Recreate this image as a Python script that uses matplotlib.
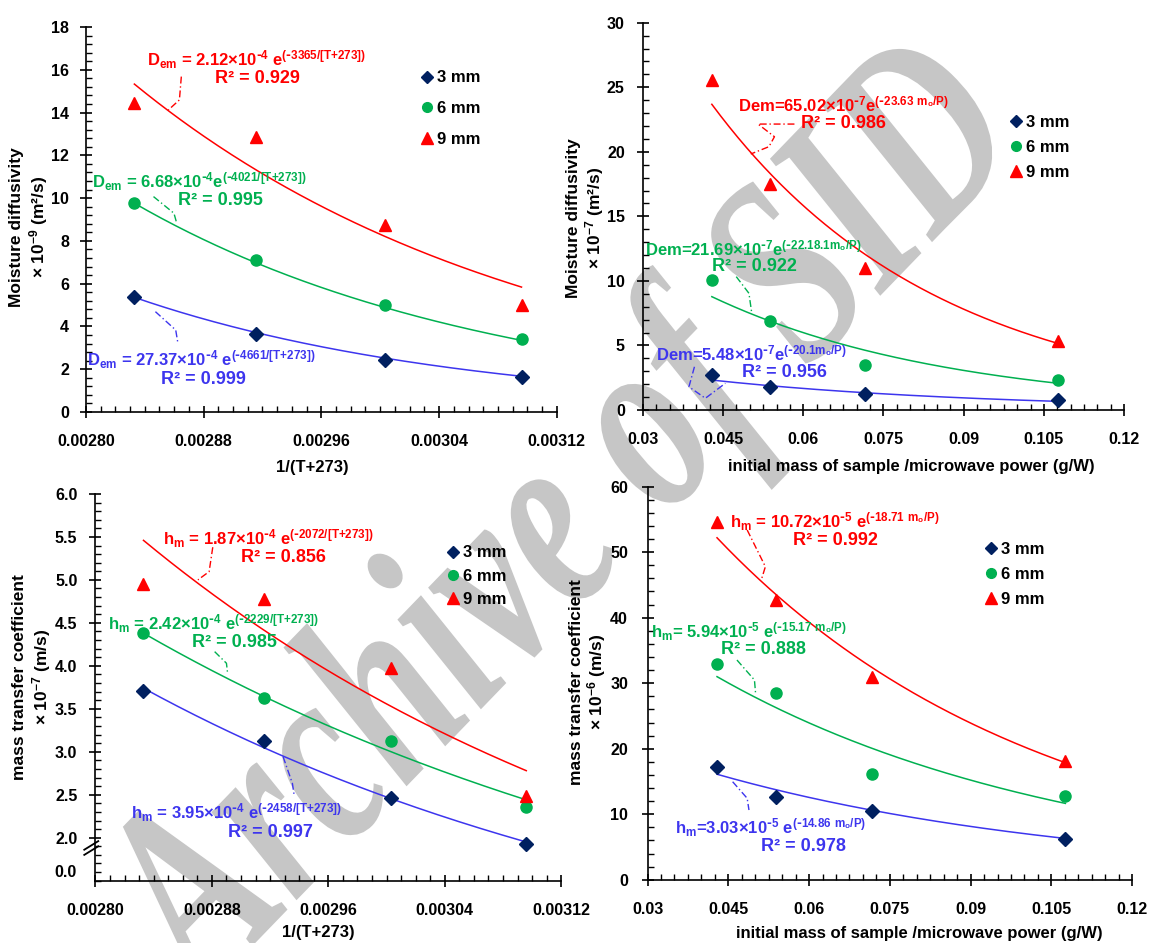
import numpy as np
import matplotlib
matplotlib.use('Agg')
import matplotlib.pyplot as plt
from matplotlib.ticker import MultipleLocator, FixedLocator, FormatStrFormatter, FuncFormatter
from matplotlib.lines import Line2D
from matplotlib.textpath import TextPath
from matplotlib.patches import PathPatch
from matplotlib.font_manager import FontProperties
from matplotlib.transforms import Affine2D, IdentityTransform

# フォント設定
plt.rcParams['font.family'] = 'Liberation Sans'
plt.rcParams['font.weight'] = 'bold'
plt.rcParams['mathtext.default'] = 'regular'

# x軸の値
inv_temp = [0.002833, 0.0029155, 0.003003, 0.003096]   # 1/(T+273), T = 80,70,60,50
mass_power = [0.0429, 0.0538, 0.0716, 0.1076]          # m0/P (g/W)

thickness = ['3 mm', '6 mm', '9 mm']

# 水分拡散係数 ×10^-9 (温度)
dem_temp_3mm = [5.37, 3.63, 2.42, 1.63]
dem_temp_6mm = [9.76, 7.09, 5.02, 3.39]
dem_temp_9mm = [14.45, 12.86, 8.74, 5.0]

# 水分拡散係数 ×10^-7 (m0/P)
dem_mass_3mm = [2.71, 1.76, 1.24, 0.77]
dem_mass_6mm = [10.04, 6.92, 3.49, 2.30]
dem_mass_9mm = [25.56, 17.48, 10.97, 5.37]

# 物質移動係数 ×10^-7 (温度)
hm_temp_3mm = [3.71, 3.12, 2.46, 1.93]
hm_temp_6mm = [4.38, 3.62, 3.13, 2.36]
hm_temp_9mm = [4.95, 4.78, 3.97, 2.49]

# 物質移動係数 ×10^-6 (m0/P)
hm_mass_3mm = [17.2, 12.6, 10.5, 6.2]
hm_mass_6mm = [33.0, 28.5, 16.1, 12.8]
hm_mass_9mm = [54.6, 42.7, 30.9, 18.1]

# 近似曲線（指数）の始点・終点の値 [3mm, 6mm, 9mm]
dem_temp_trend = [[5.36, 1.67], [9.76, 3.35], [15.33, 5.84]]
dem_mass_trend = [[2.32, 0.67], [8.78, 2.07], [23.68, 5.16]]
hm_temp_trend = [[3.74, 1.95], [4.38, 2.44], [5.46, 2.78]]
hm_mass_trend = [[16.1, 6.3], [31.0, 11.65], [52.2, 17.86]]

# 近似式ラベル [3mm, 6mm, 9mm]
dem_temp_eq = [r'D$_{em}$ = 27.37×10$^{\text{-}4}$ e$^{(\text{-}4661/[T{+}273])}$',
               r'D$_{em}$ = 6.68×10$^{\text{-}4}$e$^{(\text{-}4021/[T{+}273])}$',
               r'D$_{em}$ = 2.12×10$^{\text{-}4}$ e$^{(\text{-}3365/[T{+}273])}$']
dem_temp_r2 = ['R² = 0.999', 'R² = 0.995', 'R² = 0.929']
dem_mass_eq = [r'Dem=5.48×10$^{\text{-}7}$e$^{(\text{-}20.1m_o/P)}$',
               r'Dem=21.69×10$^{\text{-}7}$e$^{(\text{-}22.18.1m_o/P)}$',
               r'Dem=65.02×10$^{\text{-}7}$e$^{(\text{-}23.63\ m_o/P)}$']
dem_mass_r2 = ['R² = 0.956', 'R² = 0.922', 'R² = 0.986']
hm_temp_eq = [r'h$_m$ = 3.95×10$^{\text{-}4}$ e$^{(\text{-}2458/[T{+}273])}$',
              r'h$_m$ = 2.42×10$^{\text{-}4}$ e$^{(\text{-}2229/[T{+}273])}$',
              r'h$_m$ = 1.87×10$^{\text{-}4}$ e$^{(\text{-}2072/[T{+}273])}$']
hm_temp_r2 = ['R² = 0.997', 'R² = 0.985', 'R² = 0.856']
hm_mass_eq = [r'h$_m$=3.03×10$^{\text{-}5}$ e$^{(\text{-}14.86\ m_o/P)}$',
              r'h$_m$= 5.94×10$^{\text{-}5}$ e$^{(\text{-}15.17\ m_o/P)}$',
              r'h$_m$ = 10.72×10$^{\text{-}5}$ e$^{(\text{-}18.71\ m_o/P)}$']
hm_mass_r2 = ['R² = 0.978', 'R² = 0.888', 'R² = 0.992']

marker_colors = ['#002060', '#00b050', '#ff0000']
line_colors = ['#3d35ee', '#00b050', '#ff0000']
markers = ['D', 'o', '^']
marker_sizes = [7, 8, 9]


def draw_panel(ax, x, series, trends, eqs, r2s, eq_pos, r2_pos, leaders,
               legend_anchor, legend_spacing):
    ax.set_facecolor('none')
    for i in range(3):
        x0, x1 = x[0], x[-1]
        y0, y1 = trends[i]
        xs = np.linspace(x0, x1, 200)
        ys = y0 * (y1 / y0) ** ((xs - x0) / (x1 - x0))
        ax.plot(xs, ys, color=line_colors[i], lw=1.1, zorder=2)
        ax.plot(x, series[i], ls='none', marker=markers[i], ms=marker_sizes[i],
                color=marker_colors[i], mec=marker_colors[i], zorder=3)
        ax.text(eq_pos[i][0], eq_pos[i][1], eqs[i], color=line_colors[i],
                fontsize=12, fontweight='bold', ha='center', va='center', zorder=4)
        ax.text(r2_pos[i][0], r2_pos[i][1], r2s[i], color=line_colors[i],
                fontsize=13, fontweight='bold', ha='center', va='center', zorder=4)
        lx, ly = zip(*leaders[i])
        ax.plot(lx, ly, color=line_colors[i], lw=1.0, ls=(0, (5, 2, 1, 2)), zorder=2)
    handles = [Line2D([], [], ls='none', marker=markers[i], ms=marker_sizes[i] - 1,
                      color=marker_colors[i]) for i in range(3)]
    ax.legend(handles, thickness, loc='upper left', bbox_to_anchor=legend_anchor,
              frameon=False, fontsize=12, handlelength=0.7, handletextpad=0.25,
              labelspacing=legend_spacing, borderpad=0, borderaxespad=0)
    for side in ['top', 'right']:
        ax.spines[side].set_visible(False)
    for side in ['left', 'bottom']:
        ax.spines[side].set_linewidth(1.2)
    ax.tick_params(which='major', direction='inout', length=8, width=1.2, labelsize=11.5)
    ax.tick_params(which='minor', direction='in', length=4, width=1.0)


fig = plt.figure(figsize=(11.5, 9.43), dpi=100)

ax1 = fig.add_axes([0.0746, 0.5631, 0.4096, 0.4083])
ax2 = fig.add_axes([0.5590, 0.5652, 0.4185, 0.4107])
ax3 = fig.add_axes([0.0830, 0.0661, 0.4050, 0.4101])
ax4 = fig.add_axes([0.5631, 0.0671, 0.4214, 0.4168])

# (a) 温度 - 水分拡散係数
draw_panel(ax1, inv_temp, [dem_temp_3mm, dem_temp_6mm, dem_temp_9mm], dem_temp_trend,
           dem_temp_eq, dem_temp_r2,
           [(0.0028783, 2.43), (0.0028769, 10.75), (0.0029162, 16.46)],
           [(0.0028797, 1.54), (0.0028912, 9.91), (0.0029163, 15.57)],
           [[(0.0028473, 4.69), (0.0028611, 3.83), (0.0028624, 3.29)],
            [(0.0028460, 10.07), (0.0028599, 9.29), (0.0028618, 8.82)],
            [(0.0028649, 15.68), (0.0028636, 14.59), (0.0028561, 14.12)]],
           (0.712, 0.887), 0.95)
ax1.set_xlim(0.0028, 0.00312)
ax1.set_ylim(0, 18)
ax1.xaxis.set_major_locator(MultipleLocator(0.00008))
ax1.xaxis.set_minor_locator(MultipleLocator(0.00001))
ax1.xaxis.set_major_formatter(FormatStrFormatter('%.5f'))
ax1.yaxis.set_major_locator(MultipleLocator(2))
ax1.yaxis.set_minor_locator(MultipleLocator(0.4))
ax1.tick_params(axis='x', pad=12)
ax1.tick_params(axis='y', pad=8)
ax1.set_xlabel('1/(T+273)', fontsize=12, fontweight='bold', va='center')
ax1.xaxis.set_label_coords(0.4815, -0.143)
ax1.set_ylabel('Moisture diffusivity\n× 10$^{-9}$ (m²/s)', fontsize=12.5,
               fontweight='bold', va='center', linespacing=1.15)
ax1.yaxis.set_label_coords(-0.12, 0.48)

# (b) m0/P - 水分拡散係数
draw_panel(ax2, mass_power, [dem_mass_3mm, dem_mass_6mm, dem_mass_9mm], dem_mass_trend,
           dem_mass_eq, dem_mass_r2,
           [(0.05031, 4.42), (0.05068, 12.55), (0.06751, 23.70)],
           [(0.05639, 2.94), (0.05078, 11.08), (0.0676, 22.23)],
           [[(0.03965, 3.35), (0.03862, 1.80), (0.04169, 0.91), (0.04543, 2.07)],
            [(0.04747, 10.33), (0.04984, 9.04), (0.05033, 7.61)],
            [(0.05835, 22.15), (0.05154, 22.15), (0.05461, 21.17), (0.05358, 20.40),
             (0.05018, 19.83)]],
           (0.764, 0.762), 0.6)
ax2.set_xlim(0.03, 0.12)
ax2.set_ylim(0, 30)
ax2.xaxis.set_major_locator(MultipleLocator(0.015))
ax2.xaxis.set_minor_locator(MultipleLocator(0.0025))
ax2.xaxis.set_major_formatter(FuncFormatter(lambda v, p: '%g' % round(v, 4)))
ax2.yaxis.set_major_locator(MultipleLocator(5))
ax2.yaxis.set_minor_locator(MultipleLocator(1))
ax2.tick_params(axis='x', pad=12)
ax2.tick_params(axis='y', pad=9)
ax2.set_xlabel('initial mass of sample /microwave power (g/W)', fontsize=12,
               fontweight='bold', va='center')
ax2.xaxis.set_label_coords(0.557, -0.147)
ax2.set_ylabel('Moisture diffusivity\n× 10$^{-7}$ (m²/s)', fontsize=12.5,
               fontweight='bold', va='center', linespacing=1.15)
ax2.yaxis.set_label_coords(-0.118, 0.496)

# (c) 温度 - 物質移動係数
draw_panel(ax3, inv_temp, [hm_temp_3mm, hm_temp_6mm, hm_temp_9mm], hm_temp_trend,
           hm_temp_eq, hm_temp_r2,
           [(0.0028969, 2.288), (0.0028810, 4.487), (0.0029188, 5.476)],
           [(0.0029200, 2.055), (0.0028952, 4.266), (0.0029289, 5.255)],
           [[(0.0029289, 2.943), (0.0029353, 2.633), (0.0029365, 2.497)],
            [(0.0028819, 4.165), (0.0028900, 4.03), (0.0028908, 3.913)],
            [(0.0028806, 5.38), (0.0028781, 5.096), (0.0028704, 5.0)]],
           (0.756, 0.867), 0.5)
ax3.set_xlim(0.0028, 0.00312)
ax3.set_ylim(1.5, 6.0)
ax3.xaxis.set_major_locator(MultipleLocator(0.00008))
ax3.xaxis.set_minor_locator(MultipleLocator(0.00001))
ax3.xaxis.set_major_formatter(FormatStrFormatter('%.5f'))
ax3.yaxis.set_major_locator(FixedLocator(np.arange(2.0, 6.01, 0.5)))
ax3.yaxis.set_minor_locator(MultipleLocator(0.1))
ax3.yaxis.set_major_formatter(FormatStrFormatter('%.1f'))
ax3.tick_params(axis='x', pad=12)
ax3.tick_params(axis='y', pad=9)
# 軸の省略記号と 0.0 ラベル
ytr = ax3.get_yaxis_transform()
ax3.text(-0.04, 1.6, '0.0', transform=ytr, ha='right', va='center', fontsize=11.5,
         fontweight='bold')
for dy in [0.0, 0.06]:
    ax3.plot([-0.024, 0.006], [1.80 + dy, 1.90 + dy], transform=ytr, color='black',
             lw=1.3, clip_on=False)
ax3.set_xlabel('1/(T+273)', fontsize=12, fontweight='bold', va='center')
ax3.xaxis.set_label_coords(0.478, -0.135)
ax3.set_ylabel('mass transfer coefficient\n× 10$^{-7}$ (m/s)', fontsize=12.5,
               fontweight='bold', va='center', linespacing=1.15)
ax3.yaxis.set_label_coords(-0.135, 0.527)

# (d) m0/P - 物質移動係数
draw_panel(ax4, mass_power, [hm_mass_3mm, hm_mass_6mm, hm_mass_9mm], hm_mass_trend,
           hm_mass_eq, hm_mass_r2,
           [(0.0529, 8.0), (0.04891, 37.86), (0.06471, 54.66)],
           [(0.05886, 5.04), (0.05154, 35.07), (0.0648, 51.86)],
           [[(0.04580, 14.96), (0.04850, 12.43), (0.04883, 10.64)],
            [(0.04660, 33.54), (0.04985, 30.49), (0.05006, 28.46)],
            [(0.04850, 53.39), (0.05188, 47.79), (0.05121, 46.01)]],
           (0.697, 0.86), 0.6)
ax4.set_xlim(0.03, 0.12)
ax4.set_ylim(0, 60)
ax4.xaxis.set_major_locator(MultipleLocator(0.015))
ax4.xaxis.set_minor_locator(MultipleLocator(0.0025))
ax4.xaxis.set_major_formatter(FuncFormatter(lambda v, p: '%g' % round(v, 4)))
ax4.yaxis.set_major_locator(MultipleLocator(10))
ax4.yaxis.set_minor_locator(MultipleLocator(2))
ax4.tick_params(axis='x', pad=12)
ax4.tick_params(axis='y', pad=10)
ax4.set_xlabel('initial mass of sample /microwave power (g/W)', fontsize=12,
               fontweight='bold', va='center')
ax4.xaxis.set_label_coords(0.560, -0.136)
ax4.set_ylabel('mass transfer coefficient\n× 10$^{-6}$ (m/s)', fontsize=12.5,
               fontweight='bold', va='center', linespacing=1.05)
ax4.yaxis.set_label_coords(-0.122, 0.503)

# 透かし文字（縦長に変形）
wm_prop = FontProperties(family='Liberation Serif', style='italic', weight='bold')
wm_path = TextPath((0, 0), 'Archive of SID', size=100, prop=wm_prop)
ext = wm_path.get_extents()
wm_scale = 1190 / ext.width
wm_tr = (Affine2D()
         .translate(-(ext.x0 + ext.width / 2), -(ext.y0 + ext.height / 2))
         .scale(wm_scale, wm_scale * 1.4)
         .rotate_deg(46)
         .translate(565, 943 - 528))
fig.add_artist(PathPatch(wm_tr.transform_path(wm_path), facecolor='#c6c6c6',
                         edgecolor='none', transform=IdentityTransform(), zorder=-1))

fig.savefig('out.png', dpi=100)
